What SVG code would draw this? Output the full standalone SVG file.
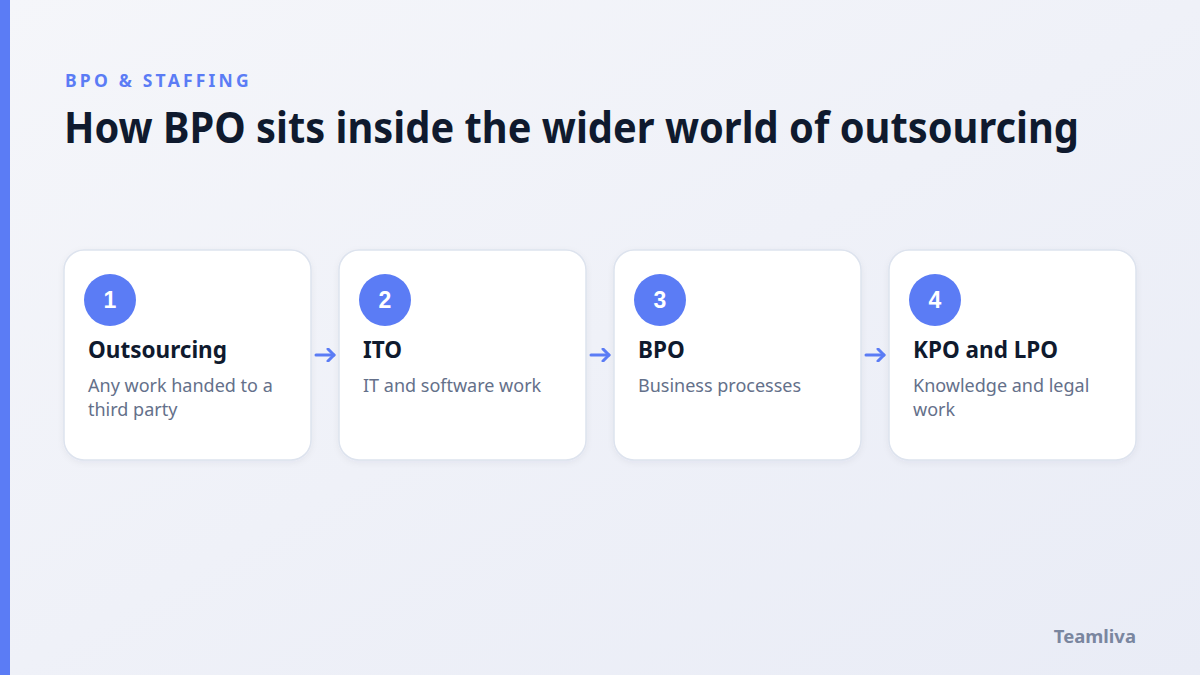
<svg xmlns="http://www.w3.org/2000/svg" width="1200" height="675" viewBox="0 0 1200 675">
<defs>
<linearGradient id="bg" x1="0" y1="0" x2="1" y2="1">
<stop offset="0" stop-color="#f5f6fa"/>
<stop offset="1" stop-color="#e9ecf6"/>
</linearGradient>
<filter id="sh" x="-10%" y="-10%" width="120%" height="130%">
<feDropShadow dx="0" dy="2" stdDeviation="3" flood-color="#1e2a50" flood-opacity="0.05"/>
</filter>
<marker id="ah" viewBox="0 0 14 14" refX="9" refY="7" markerWidth="14" markerHeight="14" markerUnits="userSpaceOnUse" orient="auto">
<path d="M3,1 L9,7 L3,13" fill="none" stroke="#5b7cf5" stroke-width="3" stroke-linecap="round" stroke-linejoin="round"/>
</marker>
</defs>
<style>
.card{fill:#ffffff;stroke:#dde3ee;stroke-width:1.5;filter:url(#sh)}
.num{fill:#5b7cf5}
.numt{font-family:"Liberation Sans","Noto Sans",sans-serif;font-weight:700;font-size:23px;fill:#ffffff;text-anchor:middle}
.ttl{font-family:"Noto Sans","Open Sans",sans-serif;font-weight:700;font-size:22.5px;fill:#0f1a2e}
.dsc{font-family:"Noto Sans","Open Sans",sans-serif;font-size:18px;fill:#64708a}
.conn{stroke:#5b7cf5;stroke-width:3;stroke-linecap:round;fill:none}
</style>
<rect width="1200" height="675" fill="url(#bg)"/>
<rect x="0" y="0" width="10" height="675" fill="#5b7cf5"/>
<text x="65" y="87" font-family="'Noto Sans','Open Sans',sans-serif" font-weight="700" font-size="17.5" letter-spacing="3.2" fill="#5b7cf5">BPO &amp; STAFFING</text>
<text x="64" y="143" font-family="'Noto Sans','Open Sans',sans-serif" font-weight="700" font-size="43" fill="#0f1a2e" textLength="1015" lengthAdjust="spacingAndGlyphs">How BPO sits inside the wider world of outsourcing</text>

<g id="connectors">
<path class="conn" d="M316,355 H334" marker-end="url(#ah)"/>
<path class="conn" d="M591,355 H609" marker-end="url(#ah)"/>
<path class="conn" d="M866,355 H884" marker-end="url(#ah)"/>
</g>

<g id="node1">
<rect class="card" x="64" y="250" width="247" height="210" rx="20"/>
<circle class="num" cx="110" cy="300" r="26"/>
<text class="numt" x="110" y="308">1</text>
<text class="ttl" x="88" y="358">Outsourcing</text>
<text class="dsc" x="88" y="392">Any work handed to a</text>
<text class="dsc" x="88" y="416">third party</text>
</g>
<g id="node2">
<rect class="card" x="339" y="250" width="247" height="210" rx="20"/>
<circle class="num" cx="385" cy="300" r="26"/>
<text class="numt" x="385" y="308">2</text>
<text class="ttl" x="363" y="358">ITO</text>
<text class="dsc" x="363" y="392">IT and software work</text>
</g>
<g id="node3">
<rect class="card" x="614" y="250" width="247" height="210" rx="20"/>
<circle class="num" cx="660" cy="300" r="26"/>
<text class="numt" x="660" y="308">3</text>
<text class="ttl" x="638" y="358">BPO</text>
<text class="dsc" x="638" y="392">Business processes</text>
</g>
<g id="node4">
<rect class="card" x="889" y="250" width="247" height="210" rx="20"/>
<circle class="num" cx="935" cy="300" r="26"/>
<text class="numt" x="935" y="308">4</text>
<text class="ttl" x="913" y="358">KPO and LPO</text>
<text class="dsc" x="913" y="392">Knowledge and legal</text>
<text class="dsc" x="913" y="416">work</text>
</g>
<text x="1136" y="643" text-anchor="end" font-family="'Noto Sans','Open Sans',sans-serif" font-weight="700" font-size="18.5" fill="#7a869f">Teamliva</text>
</svg>
